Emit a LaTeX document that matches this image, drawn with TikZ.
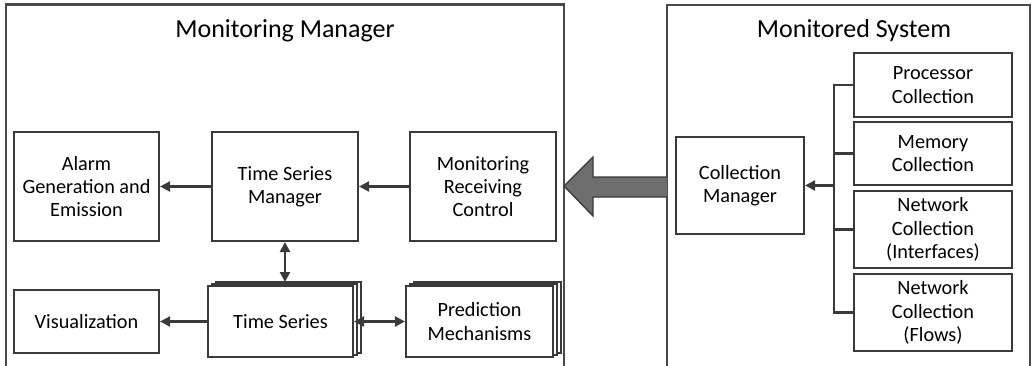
\documentclass[tikz,border=0pt]{standalone}
\usepackage{fontspec}
\setmainfont{Carlito}
\usetikzlibrary{arrows.meta,shadows,calc}
\definecolor{edge}{HTML}{3A3A3A}
\definecolor{framecol}{HTML}{4A4A4A}
\definecolor{bigarrow}{HTML}{6E6E6E}

\begin{document}
\begin{tikzpicture}[x=0.75pt,y=-0.75pt,
  box/.style={draw=edge, line width=1.6pt, fill=white, rectangle, align=center,
    inner sep=0pt, font=\fontsize{15.2pt}{17.5pt}\selectfont},
  stack/.style={box, double copy shadow={shadow xshift=3pt, shadow yshift=1.5pt,
    draw=edge, line width=1.2pt, fill=white}},
  wire/.style={draw=edge, line width=1.7pt},
  link/.style={wire, -{Triangle[length=7.5pt,width=7.5pt]}},
  both/.style={wire, {Triangle[length=7.5pt,width=7.5pt]}-{Triangle[length=7.5pt,width=7.5pt]}},
  frame/.style={draw=framecol, line width=1.6pt},
  title/.style={font=\fontsize{19.5pt}{23pt}\selectfont, inner sep=0pt, anchor=base}]

\useasboundingbox (0,0) rectangle (1033,365);
\clip (0,0) rectangle (1033,365);

% outer frames
\draw[frame] (6,4.5) rectangle (564,375);
\draw[frame] (667,5) rectangle (1030,375);
\node[title] (mmtitle) at (285,37) {Monitoring Manager};
\node[title] (mstitle) at (854,37) {Monitored System};

% monitoring manager blocks
\node[box, minimum width=108.75pt, minimum height=81.75pt] (alarm) at (86.5,186.5)
  {Alarm\\Generation and\\Emission};
\node[box, minimum width=109.5pt, minimum height=81.75pt] (tsm) at (285,186.5)
  {Time Series\\Manager};
\node[box, minimum width=109.5pt, minimum height=81.75pt] (mrc) at (483,186.5)
  {Monitoring\\Receiving\\Control};
\node[box, minimum width=108.75pt, minimum height=47.25pt] (vis) at (86.5,321.5)
  {Visualization};
\node[stack, minimum width=108.75pt, minimum height=53.25pt] (ts) at (280.5,321.5)
  {Time Series};
\node[stack, minimum width=110.25pt, minimum height=53.25pt] (pred) at (479.5,321.5)
  {Prediction\\Mechanisms};
\coordinate (tstop) at (285,282);

\draw[link] (tsm.west) -- (alarm.east);
\draw[link] (mrc.west) -- (tsm.east);
\draw[both] (tsm.south) -- (tsm.south |- tstop);
\draw[link] (ts.west) -- (vis.east);
\draw[both] (ts.east) -- (pred.west);

% monitored system blocks
\node[box, minimum width=96pt, minimum height=72.75pt] (colmgr) at (740,185.5)
  {Collection\\Manager};
\node[box, minimum width=118.5pt, minimum height=48pt] (proc) at (933,85)
  {Processor\\Collection};
\node[box, minimum width=118.5pt, minimum height=47.25pt] (mem) at (933,153.5)
  {Memory\\Collection};
\node[box, minimum width=118.5pt, minimum height=57.75pt] (netif) at (933,229.5)
  {Network\\Collection\\(Interfaces)};
\node[box, minimum width=118.5pt, minimum height=57.75pt] (netfl) at (933,312.5)
  {Network\\Collection\\(Flows)};
\coordinate (bus) at (834,186);

\draw[wire] (proc.west) -- (proc.west -| bus) |- (netfl.west);
\draw[wire] (mem.west) -- (mem.west -| bus);
\draw[wire] (netif.west) -- (netif.west -| bus);
\draw[link] (bus |- colmgr.east) -- (colmgr.east);

% block arrow between the two systems
\draw[draw=edge, line width=1pt, fill=bigarrow, line join=miter]
  (667,177) -- (593,177) -- (593,157) -- (564,186) -- (593,216) -- (593,197) -- (667,197);
\end{tikzpicture}
\end{document}
